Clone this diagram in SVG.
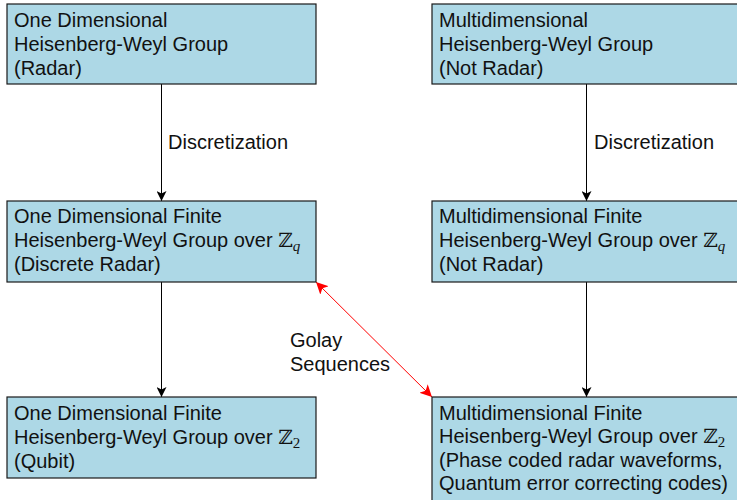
<svg xmlns="http://www.w3.org/2000/svg" width="737" height="500" viewBox="0 0 737 500">
<style>
.box{fill:#add8e6;stroke:#1a1a1a;stroke-width:1.2}
.t{font-family:"Liberation Sans",Arial,sans-serif;font-size:20px;fill:#111}
.z{font-family:"DejaVu Serif",serif;font-size:20px}
.s{font-family:"Liberation Serif",serif;font-style:italic;font-size:15px}
.s2{font-family:"Liberation Serif",serif;font-size:15px}
.e{stroke:#000;stroke-width:1;fill:none}
.r{stroke:#f00;stroke-width:1;fill:none}
</style>
<defs>
<marker id="ab" viewBox="0 0 10 10" refX="10" refY="5" markerWidth="10" markerHeight="10" markerUnits="userSpaceOnUse" orient="auto"><path d="M0,0 L10,5 L0,10 L2.5,5 z" fill="#000"/></marker>
<marker id="ar" viewBox="0 0 10 10" refX="10" refY="5" markerWidth="12" markerHeight="12" markerUnits="userSpaceOnUse" orient="auto-start-reverse"><path d="M0,0 L10,5 L0,10 L2.5,5 z" fill="#f00"/></marker>
</defs>
<g id="connectors">
<line class="e" x1="161.5" y1="84" x2="161.5" y2="201" marker-end="url(#ab)"/>
<line class="e" x1="161.5" y1="282" x2="161.5" y2="397" marker-end="url(#ab)"/>
<line class="e" x1="586.5" y1="84" x2="586.5" y2="201" marker-end="url(#ab)"/>
<line class="e" x1="586.5" y1="282" x2="586.5" y2="397" marker-end="url(#ab)"/>
<line class="r" x1="316" y1="282" x2="432" y2="397" marker-start="url(#ar)" marker-end="url(#ar)"/>
<text class="t" x="168" y="149">Discretization</text>
<text class="t" x="594" y="149">Discretization</text>
<text class="t" x="290" y="347">Golay</text>
<text class="t" x="290" y="371">Sequences</text>
</g>
<g id="n1">
<rect class="box" x="7" y="4" width="309" height="80"/>
<text class="t" x="14" y="26.5">One Dimensional</text>
<text class="t" x="14" y="50.5">Heisenberg-Weyl Group</text>
<text class="t" x="14" y="74.5">(Radar)</text>
</g>
<g id="n2">
<rect class="box" x="432" y="4" width="309" height="80"/>
<text class="t" x="439" y="26.5">Multidimensional</text>
<text class="t" x="439" y="50.5">Heisenberg-Weyl Group</text>
<text class="t" x="439" y="74.5">(Not Radar)</text>
</g>
<g id="n3">
<rect class="box" x="7" y="201" width="309" height="81"/>
<text class="t" x="14" y="222.5">One Dimensional Finite</text>
<text class="t" x="14" y="246.5">Heisenberg-Weyl Group over <tspan class="z">ℤ</tspan><tspan class="s" dy="4">q</tspan></text>
<text class="t" x="14" y="270.5">(Discrete Radar)</text>
</g>
<g id="n4">
<rect class="box" x="432" y="201" width="309" height="81"/>
<text class="t" x="439" y="222.5">Multidimensional Finite</text>
<text class="t" x="439" y="246.5">Heisenberg-Weyl Group over <tspan class="z">ℤ</tspan><tspan class="s" dy="4">q</tspan></text>
<text class="t" x="439" y="270.5">(Not Radar)</text>
</g>
<g id="n5">
<rect class="box" x="7" y="397" width="309" height="81"/>
<text class="t" x="14" y="419.5">One Dimensional Finite</text>
<text class="t" x="14" y="443.5">Heisenberg-Weyl Group over <tspan class="z">ℤ</tspan><tspan class="s2" dy="4">2</tspan></text>
<text class="t" x="14" y="467.5">(Qubit)</text>
</g>
<g id="n6">
<rect class="box" x="432" y="397" width="309" height="110"/>
<text class="t" x="439" y="419.5">Multidimensional Finite</text>
<text class="t" x="439" y="443">Heisenberg-Weyl Group over <tspan class="z">ℤ</tspan><tspan class="s2" dy="4">2</tspan></text>
<text class="t" x="439" y="466.5">(Phase coded radar waveforms,</text>
<text class="t" x="439" y="490">Quantum error correcting codes)</text>
</g>
</svg>
